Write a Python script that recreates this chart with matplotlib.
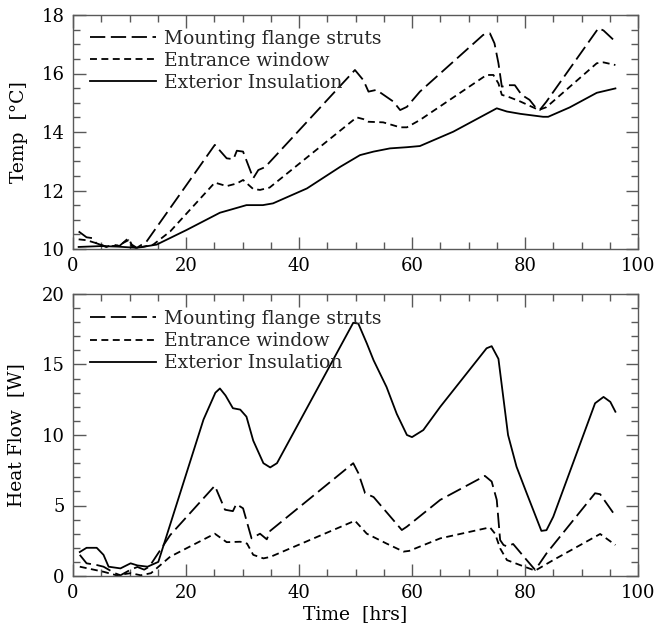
import matplotlib
matplotlib.use("Agg")
import matplotlib.pyplot as plt
from matplotlib.ticker import MultipleLocator

# ---------- data ----------

# top panel: temperature [C]
temp_struts_t = [1, 2.4, 3.5, 4.1, 5.9, 7.1, 8.2, 9.8, 10.4, 11.3, 13, 25.1, 27.2, 28.4, 29,
                 30.1, 31.9, 32.8, 34, 49.9, 51.4, 52.3, 53.7, 56.7, 57.9, 59.1, 61.4, 72.6,
                 73.8, 74.6, 75.3, 75.9, 77.1, 78.2, 79.4, 80.8, 82, 82.6, 83.8, 93, 93.9, 96]
temp_struts = [10.6, 10.4, 10.37, 10.2, 10.07, 10.15, 10.1, 10.37, 10.15, 10.04, 10.25, 13.56,
               13.1, 13.07, 13.36, 13.33, 12.42, 12.7, 12.8, 16.12, 15.77, 15.38, 15.44, 15.04,
               14.75, 14.86, 15.38, 17.32, 17.37, 17.03, 16.35, 15.55, 15.6, 15.6, 15.27, 15.1,
               14.81, 14.75, 15.04, 17.55, 17.47, 17.09]

temp_window_t = [1, 2.4, 4.1, 5.9, 8, 9.8, 10.4, 11.3, 14.2, 17.2, 25.1, 27.2, 29, 30.1, 31.9,
                 33.1, 34.8, 50.2, 51.4, 52.3, 54.9, 57.9, 59.1, 61.4, 73.2, 74.4, 75.3, 75.9,
                 77.1, 79.2, 81.8, 82.4, 83.8, 92.7, 93.9, 96]
temp_window = [10.33, 10.3, 10.2, 10.08, 10.12, 10.3, 10.1, 10.03, 10.15, 10.6, 12.27, 12.15,
               12.24, 12.36, 12.05, 12.02, 12.1, 14.5, 14.44, 14.35, 14.33, 14.16, 14.16, 14.41,
               15.95, 15.95, 15.66, 15.27, 15.2, 15.04, 14.81, 14.75, 14.85, 16.35, 16.38, 16.29]

temp_insul_t = [1, 5, 8, 11.3, 14.8, 20.1, 26, 28, 30.7, 33.6, 35.4, 41.4, 47.3, 50.8, 53.2,
                56.1, 59.1, 61.4, 67.3, 75, 76.8, 79.2, 83.2, 84.1, 87.9, 92.7, 96]
temp_insul = [10.07, 10.1, 10.08, 10.04, 10.15, 10.65, 11.24, 11.35, 11.5, 11.5, 11.56, 12.07,
              12.81, 13.21, 13.33, 13.44, 13.48, 13.52, 14.01, 14.81, 14.7, 14.62, 14.52, 14.52,
              14.84, 15.34, 15.49]

# bottom panel: heat flow [W]
hf_struts_t = [1.2, 2.4, 4.2, 5.4, 7.4, 8.4, 10.2, 11.4, 12.6, 13.5, 17.2, 25.1, 26.9, 28.3,
               28.9, 30.1, 31.6, 33.1, 34.3, 34.9, 49.6, 50.5, 51.7, 53.2, 58.2, 59.1, 65,
               72.9, 74.1, 75, 75.6, 76.2, 76.8, 77.9, 80.3, 81.8, 83.8, 92.4, 93.3, 96]
hf_struts = [1.5, 0.9, 0.78, 0.66, 0.2, 0.05, 0.45, 0.64, 0.45, 0.66, 2.9, 6.4, 4.7, 4.6, 5.1,
             4.8, 2.67, 3.0, 2.6, 3.2, 8.0, 7.3, 5.87, 5.6, 3.26, 3.5, 5.4, 7.1, 6.7, 5.4, 2.55,
             2.2, 2.1, 2.27, 1.13, 0.43, 1.6, 5.87, 5.8, 4.26]

hf_window_t = [1.2, 5.4, 7.7, 10.2, 12, 13.8, 17.2, 25.1, 27.2, 29.6, 30.8, 31.9, 33.7, 34.9,
               49.9, 52, 55.5, 58.5, 59.5, 65, 73.8, 74.7, 75.6, 76.8, 79.1, 81.8, 85, 93.3, 96]
hf_window = [0.66, 0.3, 0.05, 0.2, 0.05, 0.2, 1.37, 3.0, 2.4, 2.43, 2.3, 1.5, 1.25, 1.35,
             3.92, 3.0, 2.3, 1.73, 1.78, 2.67, 3.45, 3.0, 1.96, 1.13, 0.78, 0.38, 1.13, 2.98, 2.2]

hf_insul_t = [1.2, 2.4, 4.2, 5.4, 6.3, 8.4, 10.2, 11.4, 13.2, 15.1, 23.1, 25.2, 26, 27, 28.3,
              29.6, 30.7, 31.9, 33.7, 34.9, 36.1, 49.6, 50.5, 52, 53.2, 55.5, 57.3, 59.1, 60,
              62, 65, 73.2, 74.1, 75.3, 77, 78.5, 80.3, 82.9, 83.8, 85, 92.4, 93.9, 95.1, 96]
hf_insul = [1.7, 2.0, 2.0, 1.5, 0.66, 0.54, 0.9, 0.75, 0.66, 1.0, 11.1, 13.0, 13.3, 12.8, 11.9,
            11.8, 11.3, 9.6, 8.0, 7.7, 8.0, 17.96, 17.9, 16.5, 15.3, 13.4, 11.5, 10.0, 9.85,
            10.35, 12.0, 16.15, 16.3, 15.4, 10.0, 7.75, 5.87, 3.2, 3.25, 4.2, 12.25, 12.7,
            12.35, 11.65]

labels = ["Mounting flange struts", "Entrance window", "Exterior Insulation"]

# ---------- styling ----------

plt.rcParams["font.family"] = ["DejaVu Serif"]
plt.rcParams["font.size"] = 13
plt.rcParams["lines.scale_dashes"] = False

LONG = (0, (11, 4))
SHORT = (0, (5, 3.2))
LW = 1.3
FRAME = "0.35"


def style_axes(ax, ymin, ymax, ymajor, yminor):
    ax.set_xlim(0, 100)
    ax.set_ylim(ymin, ymax)
    ax.xaxis.set_major_locator(MultipleLocator(20))
    ax.xaxis.set_minor_locator(MultipleLocator(5))
    ax.yaxis.set_major_locator(MultipleLocator(ymajor))
    ax.yaxis.set_minor_locator(MultipleLocator(yminor))
    ax.tick_params(which="both", direction="in", top=True, right=True, color=FRAME,
                   labelsize=13, pad=6)
    ax.tick_params(which="major", length=9, width=1)
    ax.tick_params(which="minor", length=5, width=1)
    for s in ax.spines.values():
        s.set_color(FRAME)
        s.set_linewidth(1)


def add_legend(ax, ytop):
    leg = ax.legend(loc="upper left", frameon=False, handlelength=3.5, handletextpad=0.43,
                    labelspacing=0.22, borderaxespad=0.5, fontsize=13.5,
                    bbox_to_anchor=(0.0, ytop))
    for txt in leg.get_texts():
        txt.set_color("0.15")


fig = plt.figure(figsize=(6.7, 6.3), dpi=100)
ax1 = fig.add_axes([73 / 670, 1 - 249 / 630, 565 / 670, 234 / 630])
ax2 = fig.add_axes([73 / 670, 1 - 576 / 630, 565 / 670, 282 / 630])

ax1.plot(temp_struts_t, temp_struts, color="k", lw=LW, linestyle=LONG, label=labels[0])
ax1.plot(temp_window_t, temp_window, color="k", lw=LW, linestyle=SHORT, label=labels[1])
ax1.plot(temp_insul_t, temp_insul, color="k", lw=LW, linestyle="-", label=labels[2])
style_axes(ax1, 10, 18, 2, 0.5)
ax1.set_ylabel("Temp  [\u00b0C]", fontsize=13.5, labelpad=10)
add_legend(ax1, 1.01)

ax2.plot(hf_struts_t, hf_struts, color="k", lw=LW, linestyle=LONG, label=labels[0])
ax2.plot(hf_window_t, hf_window, color="k", lw=LW, linestyle=SHORT, label=labels[1])
ax2.plot(hf_insul_t, hf_insul, color="k", lw=LW, linestyle="-", label=labels[2])
style_axes(ax2, 0, 20, 5, 1)
ax2.set_ylabel("Heat Flow  [W]", fontsize=13.5, labelpad=12)
ax2.set_xlabel("Time  [hrs]", fontsize=13.5, labelpad=2)
add_legend(ax2, 1.003)

fig.savefig("out.png", dpi=100)
